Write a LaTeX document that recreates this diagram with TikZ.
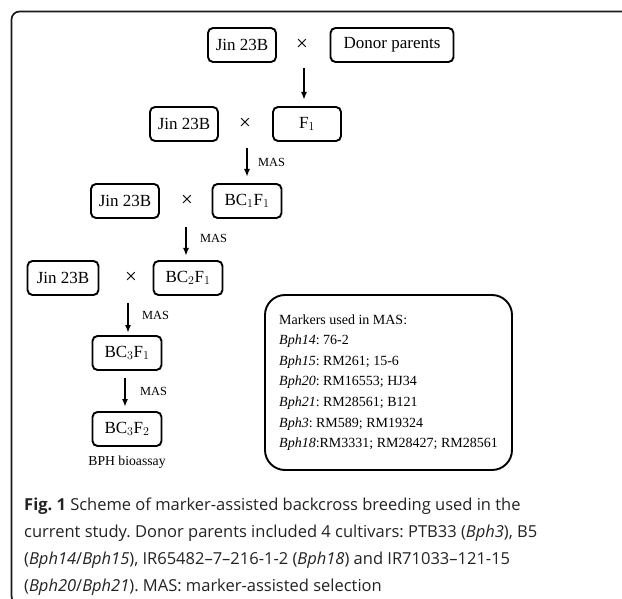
\documentclass[tikz,border=0pt]{standalone}
\usepackage{fontspec}
\setmainfont{Liberation Serif}
\newfontfamily\capfont{Open Sans}
\usetikzlibrary{arrows.meta}
\definecolor{framegray}{HTML}{1A1A1A}
\definecolor{captext}{HTML}{222222}
\frenchspacing
\begin{document}
\begin{tikzpicture}[x=1pt,y=-1pt,
  box/.style={draw=black, line width=1.9pt, rounded corners=5pt, minimum height=34pt,
    inner sep=0pt, font=\fontsize{17}{20}\selectfont},
  crossmark/.style={inner sep=0pt, font=\fontsize{21}{22}\selectfont},
  arr/.style={-{Latex[length=8pt,width=6pt]}, line width=1.8pt},
  maslabel/.style={inner sep=0pt, anchor=west, font=\fontsize{12.4}{14}\selectfont},
  capline/.style={inner sep=0pt, anchor=base west, text=captext, font=\capfont\fontsize{16.5}{18}\selectfont}
]
\useasboundingbox (0,0) rectangle (622,599);
\begin{scope}
  \clip (0,0) rectangle (622,599);
  \draw[framegray, line width=1.7pt, rounded corners=8pt] (640,11.5) -- (11.5,11.5) -- (11.5,604) -- (40,604);
\end{scope}

% row 1
\node[box, minimum width=68pt] (j0) at (242,45) {Jin 23B};
\node[crossmark] (x0) at (302,45) {×};
\node[box, minimum width=123pt] (donor) at (392,45) {Donor parents};
% row 2
\node[box, minimum width=68pt] (j1) at (184,124) {Jin 23B};
\node[crossmark] (x1) at (245,124) {×};
\node[box, minimum width=68pt] (f1) at (307,124) {F$_1$};
% row 3
\node[box, minimum width=68pt] (j2) at (125,201) {Jin 23B};
\node[crossmark] (x2) at (187,201) {×};
\node[box, minimum width=69pt] (bc1) at (247,201) {BC$_1$F$_1$};
% row 4
\node[box, minimum width=71pt] (j3) at (63,278) {Jin 23B};
\node[crossmark] (x3) at (131,278) {×};
\node[box, minimum width=69pt] (bc2) at (188,278) {BC$_2$F$_1$};
% rows 5-6
\node[box, minimum width=69pt] (bc3) at (127,353) {BC$_3$F$_1$};
\node[box, minimum width=69pt] (bc3f2) at (127,429) {BC$_3$F$_2$};
\node[inner sep=0pt, font=\fontsize{13.7}{16}\selectfont] (bio) at (127,462) {BPH bioassay};

% arrows
\coordinate (a0) at (304,68);
\draw[arr] (a0) -- (a0 |- 0,100);
\coordinate (a1) at (247,148);
\draw[arr] (a1) -- (a1 |- 0,177);
\node[maslabel] (m1) at (258,162) {MAS};
\coordinate (a2) at (186,227);
\draw[arr] (a2) -- (a2 |- 0,256);
\node[maslabel] (m2) at (200,238) {MAS};
\coordinate (a3) at (128,303);
\draw[arr] (a3) -- (a3 |- 0,333);
\node[maslabel] (m3) at (142,315) {MAS};
\coordinate (a4) at (125,378);
\draw[arr] (a4) -- (a4 |- 0,407);
\node[maslabel] (m4) at (140,391) {MAS};

% markers box
\node[draw=black, line width=1.9pt, rounded corners=20pt, minimum width=247pt, minimum height=175pt,
  inner sep=0pt, align=left, font=\fontsize{14}{20.6}\selectfont] (markers) at (388.5,382.5)
  {Markers used in MAS:\\
   \textit{Bph14}: 76-2\\
   \textit{Bph15}: RM261; 15-6\\
   \textit{Bph20}: RM16553; HJ34\\
   \textit{Bph21}: RM28561; B121\\
   \textit{Bph3}: RM589; RM19324\\
   \textit{Bph18}:RM3331; RM28427; RM28561};

% caption
\node[capline] (c1) at (24,510) {\textbf{Fig. 1} Scheme of marker-assisted backcross breeding used in the};
\node[capline] (c2) at (24,537) {current study. Donor parents included 4 cultivars: PTB33 (\textit{Bph3}), B5};
\node[capline] (c3) at (24,564) {(\textit{Bph14}/\textit{Bph15}), IR65482–7–216-1-2 (\textit{Bph18}) and IR71033–121-15};
\node[capline] (c4) at (24,591) {(\textit{Bph20}/\textit{Bph21}). MAS: marker-assisted selection};
\end{tikzpicture}
\end{document}
